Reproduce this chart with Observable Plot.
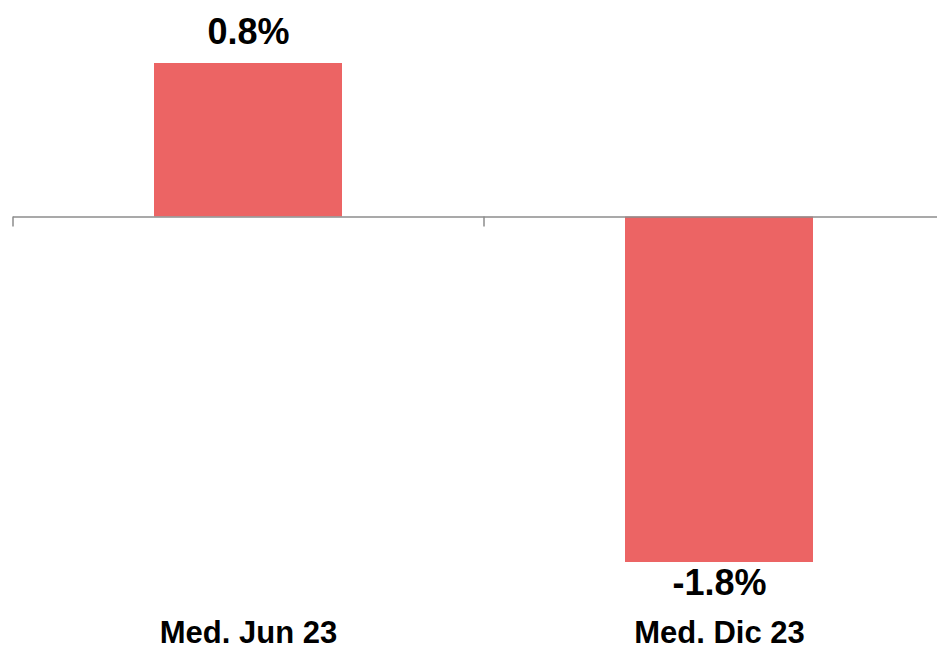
<!DOCTYPE html>
<html>
<head>
<meta charset="utf-8">
<script src="https://cdn.jsdelivr.net/npm/d3@7"></script>
<script src="https://cdn.jsdelivr.net/npm/@observablehq/plot@0.6"></script>
<style>
  html, body { margin: 0; padding: 0; background: #fff; }
  #chart svg { display: block; }
</style>
</head>
<body>
<div id="chart"></div>
<script>
const categories = ["Med. Jun 23", "Med. Dic 23"];
const values = [0.8, -1.8];
const labels = ["0.8%", "-1.8%"];

const data = categories.map((c, i) => ({cat: c, value: values[i], label: labels[i]}));

const font = "'Liberation Sans', Arial, Helvetica, sans-serif";

const chart = Plot.plot({
  width: 938,
  height: 647,
  marginTop: 63,
  marginBottom: 85,
  marginLeft: 13,
  marginRight: 1,
  style: {fontFamily: font, background: "#fff"},
  x: {domain: categories, range: [13, 955], paddingInner: 0.6, paddingOuter: 0.3, axis: null},
  y: {domain: [-1.8, 0.8], axis: null},
  marks: [
    Plot.barY(data, {x: "cat", y: "value", fill: "#EC6464"}),
    Plot.ruleY([0], {stroke: "#8c8c8c", strokeWidth: 1.5}),
    Plot.ruleX(data, {x: "cat", y1: 0, y2: 0, dx: -235.5, insetBottom: -10, stroke: "#8c8c8c", strokeWidth: 1.5}),
    Plot.text(data.filter(d => d.value >= 0), {x: "cat", y: "value", text: "label", lineAnchor: "bottom", dy: -20, fontSize: 36, fontWeight: "bold", fill: "#000"}),
    Plot.text(data.filter(d => d.value < 0), {x: "cat", y: "value", text: "label", lineAnchor: "top", dy: 7, fontSize: 36, fontWeight: "bold", fill: "#000"}),
    Plot.axisX({domain: categories, tickSize: 0, tickPadding: 58, fontSize: 31, fontWeight: "bold", fill: "#000", label: null})
  ]
});
document.getElementById("chart").appendChild(chart);
</script>
</body>
</html>
